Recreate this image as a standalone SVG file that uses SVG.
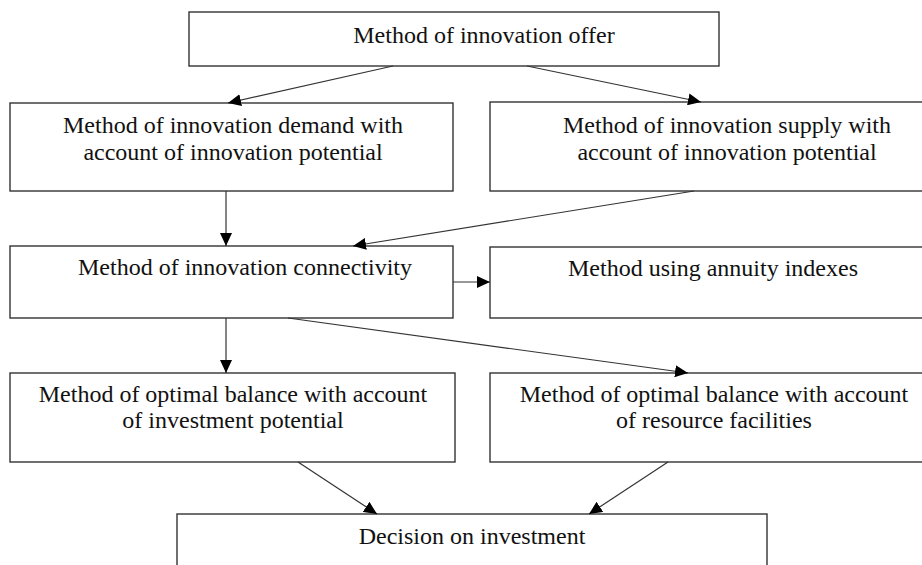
<svg xmlns="http://www.w3.org/2000/svg" width="922" height="565" viewBox="0 0 922 565">
<style>
.box{fill:#fff;stroke:#333;stroke-width:1.4}
.t{font-family:"Liberation Serif","Times New Roman",serif;font-size:24px;fill:#111;text-anchor:middle}
.c{stroke:#333;stroke-width:1.2;fill:none;marker-end:url(#ah)}
</style>
<defs>
<marker id="ah" markerUnits="userSpaceOnUse" markerWidth="14" markerHeight="12" refX="13" refY="6" orient="auto">
<path d="M0,0 L13,6 L0,12 z" fill="#000"/>
</marker>
</defs>
<rect width="922" height="565" fill="#fff"/>
<g id="n-offer"><rect class="box" x="189" y="12" width="530" height="54"/><text class="t" x="484" y="43">Method of innovation offer</text></g>
<g id="n-demand"><rect class="box" x="10" y="103" width="443" height="88"/><text class="t" x="233" y="133">Method of innovation demand with</text><text class="t" x="233" y="160">account of innovation potential</text></g>
<g id="n-supply"><rect class="box" x="490" y="102" width="440" height="89"/><text class="t" x="727" y="133">Method of innovation supply with</text><text class="t" x="727" y="160">account of innovation potential</text></g>
<g id="n-connect"><rect class="box" x="10" y="246" width="443" height="72"/><text class="t" x="245" y="275">Method of innovation connectivity</text></g>
<g id="n-annuity"><rect class="box" x="490" y="247" width="440" height="71"/><text class="t" x="713" y="276">Method using annuity indexes</text></g>
<g id="n-invest"><rect class="box" x="10" y="373" width="445" height="89"/><text class="t" x="233" y="402">Method of optimal balance with account</text><text class="t" x="233" y="428">of investment potential</text></g>
<g id="n-resource"><rect class="box" x="490" y="373" width="440" height="89"/><text class="t" x="714" y="402">Method of optimal balance with account</text><text class="t" x="714" y="428">of resource facilities</text></g>
<g id="n-decision"><rect class="box" x="177" y="514" width="590" height="60"/><text class="t" x="472" y="544">Decision on investment</text></g>
<g id="connectors">
<line class="c" x1="393" y1="66" x2="228" y2="103"/>
<line class="c" x1="527" y1="66" x2="701" y2="102"/>
<line class="c" x1="226" y1="191" x2="226" y2="246"/>
<line class="c" x1="694" y1="191" x2="353" y2="246"/>
<line class="c" x1="453" y1="282" x2="490" y2="282"/>
<line class="c" x1="226" y1="318" x2="226" y2="373"/>
<line class="c" x1="288" y1="318" x2="688" y2="373"/>
<line class="c" x1="298" y1="462" x2="377" y2="514"/>
<line class="c" x1="668" y1="462" x2="589" y2="514"/>
</g>
</svg>
